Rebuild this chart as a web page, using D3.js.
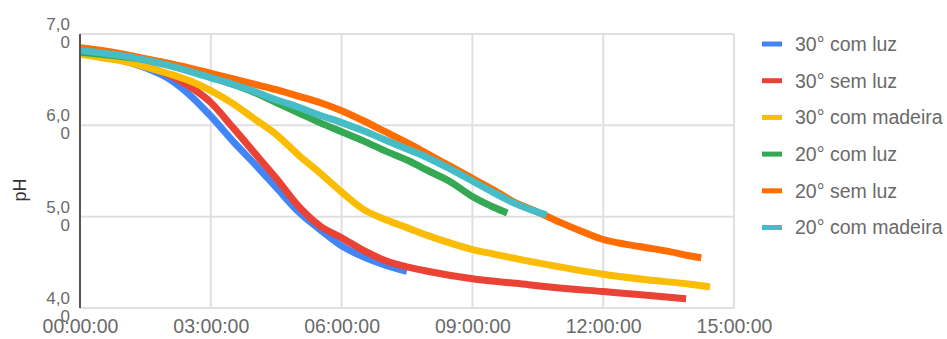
<!DOCTYPE html>
<html><head><meta charset="utf-8">
<script src="https://cdn.jsdelivr.net/npm/d3@7"></script>
<style>
html,body{margin:0;padding:0;background:#fff;}
svg{display:block;font-family:"Liberation Sans",Arial,sans-serif;}
</style></head>
<body><svg id="c" width="947" height="339"></svg>
<script>
// ---- data (hours, pH) ----
const seriesNames = ["30° com luz","30° sem luz","30° com madeira","20° com luz","20° sem luz","20° com madeira"];
const seriesColors = ["#4285f4","#ea4335","#fbbc04","#34a853","#ff6d01","#46bdc6"];

const t30luz  = [0,0.5,1,1.5,2,2.5,3,3.5,4,4.5,5,5.5,6,6.5,7,7.5];
const ph30luz = [6.84,6.78,6.71,6.63,6.52,6.34,6.10,5.83,5.58,5.32,5.06,4.86,4.68,4.56,4.47,4.40];

const t30sem  = [0,0.5,1,1.5,2,2.5,3,3.5,4,4.5,5,5.5,6,6.5,7,7.5,8,9,10,11,12,13,13.9];
const ph30sem = [6.82,6.78,6.72,6.65,6.56,6.43,6.25,5.98,5.70,5.42,5.12,4.90,4.77,4.63,4.52,4.45,4.40,4.32,4.27,4.22,4.18,4.14,4.10];

const t30mad  = [0,0.5,1,1.5,2,2.5,3,3.5,4,4.5,5,5.5,6,6.5,7,7.5,8,8.5,9,9.5,10,11,12,13,14,14.45];
const ph30mad = [6.78,6.74,6.70,6.64,6.57,6.49,6.38,6.24,6.07,5.90,5.68,5.48,5.27,5.08,4.97,4.88,4.79,4.71,4.64,4.59,4.54,4.45,4.37,4.31,4.26,4.23];

const t20luz  = [0,1,2,3,3.5,4,4.5,5,5.5,6,6.5,7,7.5,8,8.5,9,9.5,9.8];
const ph20luz = [6.80,6.75,6.68,6.53,6.45,6.36,6.25,6.14,6.03,5.93,5.83,5.72,5.62,5.50,5.38,5.22,5.10,5.04];

const t20sem  = [0,0.5,1,1.5,2,2.5,3,3.5,4,4.5,5,5.5,6,6.5,7,7.5,8,8.5,9,9.5,10,10.5,11,11.5,12,12.5,13,13.5,14,14.25];
const ph20sem = [6.85,6.82,6.78,6.73,6.68,6.63,6.57,6.51,6.45,6.39,6.32,6.25,6.16,6.05,5.93,5.81,5.68,5.55,5.42,5.29,5.15,5.05,4.94,4.84,4.75,4.70,4.66,4.62,4.57,4.55];

const t20mad  = [0,1,2,3,3.5,4,4.5,5,5.5,6,6.5,7,7.5,8,8.5,9,9.5,10,10.5,10.7];
const ph20mad = [6.82,6.76,6.66,6.52,6.45,6.37,6.28,6.20,6.11,6.03,5.94,5.84,5.74,5.64,5.52,5.39,5.26,5.14,5.05,5.02];

const xTicks = [0,3,6,9,12,15];
const xTickLabels = ["00:00:00","03:00:00","06:00:00","09:00:00","12:00:00","15:00:00"];
const yTicks = [4,5,6,7];
const yTickLines1 = ["4,0","5,0","6,0","7,0"];
const yTickLines2 = ["0","0","0","0"];

const seriesT = [t30luz,t30sem,t30mad,t20luz,t20sem,t20mad];
const seriesV = [ph30luz,ph30sem,ph30mad,ph20luz,ph20sem,ph20mad];

// ---- chart ----
const svg = d3.select("#c");
const x = d3.scaleLinear().domain([0,15]).range([80,734]);
const y = d3.scaleLinear().domain([4,7]).range([308,34]);

// gridlines
svg.append("g").selectAll("line.h").data(yTicks).join("line")
  .attr("x1",x(0)).attr("x2",x(15)).attr("y1",d=>y(d)).attr("y2",d=>y(d))
  .attr("stroke","#e0e0e0").attr("stroke-width",2);
svg.append("g").selectAll("line.v").data(xTicks.slice(1)).join("line")
  .attr("x1",d=>x(d)).attr("x2",d=>x(d)).attr("y1",y(7)).attr("y2",y(4))
  .attr("stroke","#e0e0e0").attr("stroke-width",2);

// x axis labels
const xAxis = d3.axisBottom(x).tickValues(xTicks).tickSize(0).tickPadding(0)
  .tickFormat((d,i)=>xTickLabels[i]);
const gx = svg.append("g").attr("transform",`translate(0,${y(4)})`).call(xAxis);
gx.select(".domain").remove();
gx.selectAll("text").attr("font-size","19.5px").attr("fill","#6a6a6a")
  .attr("font-family","'Liberation Sans',Arial,sans-serif").attr("dy",null).attr("y",25);

// y axis labels (wrapped, as in the reference)
const gy = svg.append("g");
yTicks.forEach((v,i)=>{
  const t = gy.append("text").attr("text-anchor","end").attr("font-size","17px").attr("fill","#6a6a6a");
  t.append("tspan").attr("x",70).attr("y",y(v)-4).text(yTickLines1[i]);
  t.append("tspan").attr("x",70).attr("y",y(v)+14).text(yTickLines2[i]);
});

// y axis title
svg.append("text").attr("transform",`translate(26,190) rotate(-90)`)
  .attr("text-anchor","middle").attr("font-size","18px").attr("fill","#333").text("pH");

// series
const line = d3.line().x(d=>x(d[0])).y(d=>y(d[1])).curve(d3.curveMonotoneX);
seriesT.forEach((ts,i)=>{
  const pts = ts.map((t,j)=>[t,seriesV[i][j]]);
  svg.append("path").attr("d",line(pts)).attr("fill","none")
    .attr("stroke",seriesColors[i]).attr("stroke-width",7)
    .attr("stroke-linejoin","round").attr("stroke-linecap","butt");
});

// left axis line
svg.append("line").attr("x1",x(0)).attr("x2",x(0)).attr("y1",y(7)).attr("y2",y(4))
  .attr("stroke","#555").attr("stroke-width",2);

// legend
const lg = svg.append("g");
seriesNames.forEach((n,i)=>{
  const cy = 44 + i*36.7;
  lg.append("line").attr("x1",762).attr("x2",782).attr("y1",cy).attr("y2",cy)
    .attr("stroke",seriesColors[i]).attr("stroke-width",5);
  lg.append("text").attr("x",795).attr("y",cy).attr("dy","0.35em")
    .attr("font-size","19.5px").attr("fill","#6a6a6a").text(n);
});
</script></body></html>
